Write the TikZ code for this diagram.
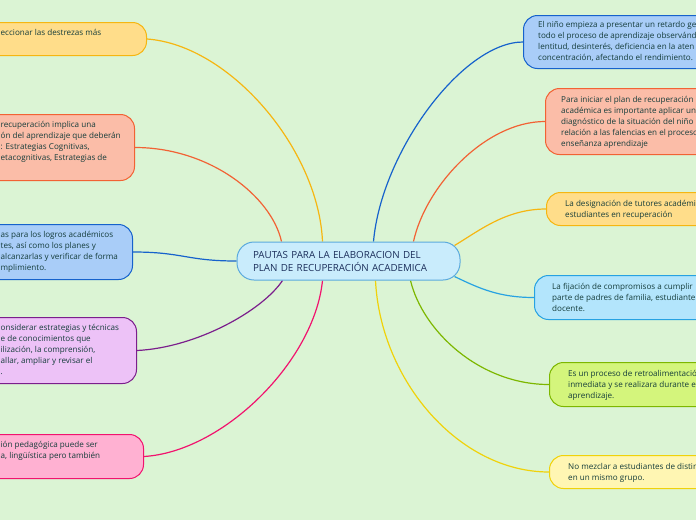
\documentclass[tikz,border=0pt]{standalone}
\usepackage{fontspec}
\setmainfont{Open Sans}
\pgfdeclarelayer{back}
\pgfdeclarelayer{links}
\pgfsetlayers{back,links,main}
\definecolor{paper}{HTML}{DBF4D4}
\definecolor{ink}{HTML}{143C3A}
\definecolor{navy}{HTML}{1B2E5A}
\definecolor{amber}{HTML}{F6B611}
\definecolor{amberfill}{HTML}{FFDD8A}
\definecolor{salmon}{HTML}{F26234}
\definecolor{salmonfill}{HTML}{FBBDA8}
\definecolor{royal}{HTML}{1662CC}
\definecolor{royalfill}{HTML}{A9CDF8}
\definecolor{plum}{HTML}{7B1E8C}
\definecolor{plumfill}{HTML}{EDC2F7}
\definecolor{rose}{HTML}{F1136E}
\definecolor{rosefill}{HTML}{FFB1D2}
\definecolor{sky}{HTML}{27A2E2}
\definecolor{skyfill}{HTML}{B3E5FC}
\definecolor{lime}{HTML}{7DB700}
\definecolor{limefill}{HTML}{D4F57C}
\definecolor{lemon}{HTML}{F0D20A}
\definecolor{lemonfill}{HTML}{FFF6B3}
\definecolor{hubline}{HTML}{5BAADD}
\definecolor{hubfill}{HTML}{C9ECFC}
\tikzset{
  topic/.style={line width=1pt, rounded corners=14pt, minimum width=260pt, inner sep=0pt},
  note/.style={anchor=base west, align=left, inner sep=0pt, text=ink, font=\fontsize{8.1}{11}\selectfont},
  hub/.style={draw=hubline, fill=hubfill, line width=1pt, rounded corners=17pt, minimum width=223pt,
    minimum height=38pt, align=left, text width=191pt, inner xsep=16pt, inner ysep=0pt, text=navy,
    font=\fontsize{9.8}{13}\selectfont},
  link/.style={line width=1.2pt},
}
\begin{document}
\begin{tikzpicture}[x=1pt,y=-1pt]
\useasboundingbox (0,0) rectangle (696,520);
\begin{pgfonlayer}{back}
\fill[paper] (0,0) rectangle (696,520);
\end{pgfonlayer}
\clip (0,0) rectangle (696,520);
% centre
\node[hub] (plan) at (348.5,261) {PAUTAS PARA LA ELABORACION DEL\\PLAN DE RECUPERACIÓN ACADEMICA};
% left side (texts sit on their last baseline)
\node[topic, fill=amberfill, draw=amber, minimum height=33pt, anchor=north east] (destrezas) at (147,22) {};
\node[note] (destrezas-t) at (0.5,35.5) {eccionar las destrezas más};
\node[topic, fill=salmonfill, draw=salmon, minimum height=66pt, anchor=north east] (estrategias) at (135,114) {};
\node[note] (estrategias-t) at (0.5,160.5) {recuperación implica una\\ón del aprendizaje que deberán\\: Estrategias Cognitivas,\\etacognitivas, Estrategias de};
\node[topic, fill=royalfill, draw=royal, minimum height=55pt, anchor=north east] (metas) at (133,224) {};
\node[note] (metas-t) at (0.5,270.5) {as para los logros académicos\\tes, así como los planes y\\alcanzarlas y verificar de forma\\mplimiento.};
\node[topic, fill=plumfill, draw=plum, minimum height=66pt, anchor=north east] (tecnicas) at (137,317) {};
\node[note] (tecnicas-t) at (0.5,374.5) {onsiderar estrategias y técnicas\\e de conocimientos que\\ilización, la comprensión,\\allar, ampliar y revisar el\\.};
\node[topic, fill=rosefill, draw=rose, minimum height=44pt, anchor=north east] (intervencion) at (144,434) {};
\node[note] (intervencion-t) at (0.5,458.5) {ión pedagógica puede ser\\a, lingüística pero también};
% right side
\node[topic, fill=royalfill, draw=royal, minimum height=53pt, anchor=north west] (retardo) at (523,15) {};
\node[note] (retardo-t) at (538,60.5) {El niño empieza a presentar un retardo ge\\todo el proceso de aprendizaje observánd\\lentitud, desinterés, deficiencia en la aten\\concentración, afectando el rendimiento.};
\node[topic, fill=salmonfill, draw=salmon, minimum height=66pt, anchor=north west] (diagnostico) at (545,88) {};
\node[note] (diagnostico-t) at (561,146.5) {Para iniciar el plan de recuperación\\académica es importante aplicar un\\diagnóstico de la situación del niño\\relación a las falencias en el proceso\\enseñanza aprendizaje};
\node[topic, fill=amberfill, draw=amber, minimum height=33pt, anchor=north west] (tutores) at (546,192) {};
\node[note] (tutores-t) at (565,217.5) {La designación de tutores académi\\estudiantes en recuperación};
\node[topic, fill=skyfill, draw=sky, minimum height=44pt, anchor=north west] (compromisos) at (534,275) {};
\node[note] (compromisos-t) at (552,311.5) {La fijación de compromisos a cumplir\\parte de padres de familia, estudiante\\docente.};
\node[topic, fill=limefill, draw=lime, minimum height=44pt, anchor=north west] (retro) at (549,362) {};
\node[note] (retro-t) at (568,398.5) {Es un proceso de retroalimentació\\inmediata y se realizara durante e\\aprendizaje.};
\node[topic, fill=lemonfill, draw=lemon, minimum height=33pt, anchor=north west] (grupos) at (549,455) {};
\node[note] (grupos-t) at (568,480.5) {No mezclar a estudiantes de distin\\en un mismo grupo.};
% branches
\begin{pgfonlayer}{links}
\draw[link, amber] (destrezas.east) .. controls +(83,6) and +(-4,-92) .. ([xshift=-26pt]plan.north);
\draw[link, salmon] (estrategias.east) .. controls +(75,0) and +(-10,-45) .. ([xshift=-67pt]plan.north);
\draw[link, royal] (metas.east) .. controls +(50,0) and +(-50,0) .. (plan.west);
\draw[link, plum] (tecnicas.east) .. controls +(60,-3) and +(-20,30) .. ([xshift=-66pt]plan.south);
\draw[link, rose] (intervencion.east) .. controls +(80,-5) and +(-8,80) .. ([xshift=-26pt]plan.south);
\draw[link, royal] (retardo.west) .. controls +(-60,0) and +(8,-90) .. ([xshift=25pt]plan.north);
\draw[link, salmon] (diagnostico.west) .. controls +(-60,0) and +(12,-55) .. ([xshift=65pt]plan.north);
\draw[link, amber] (tutores.west) .. controls +(-40,0) and +(25,-15) .. ([xshift=-6pt,yshift=-4pt]plan.north east);
\draw[link, sky] (compromisos.west) .. controls +(-35,0) and +(25,12) .. ([xshift=-6pt,yshift=4pt]plan.south east);
\draw[link, lime] (retro.west) .. controls +(-70,0) and +(12,50) .. ([xshift=62pt]plan.south);
\draw[link, lemon] (grupos.west) .. controls +(-90,0) and +(5,100) .. ([xshift=27pt]plan.south);
\end{pgfonlayer}
\end{tikzpicture}
\end{document}
